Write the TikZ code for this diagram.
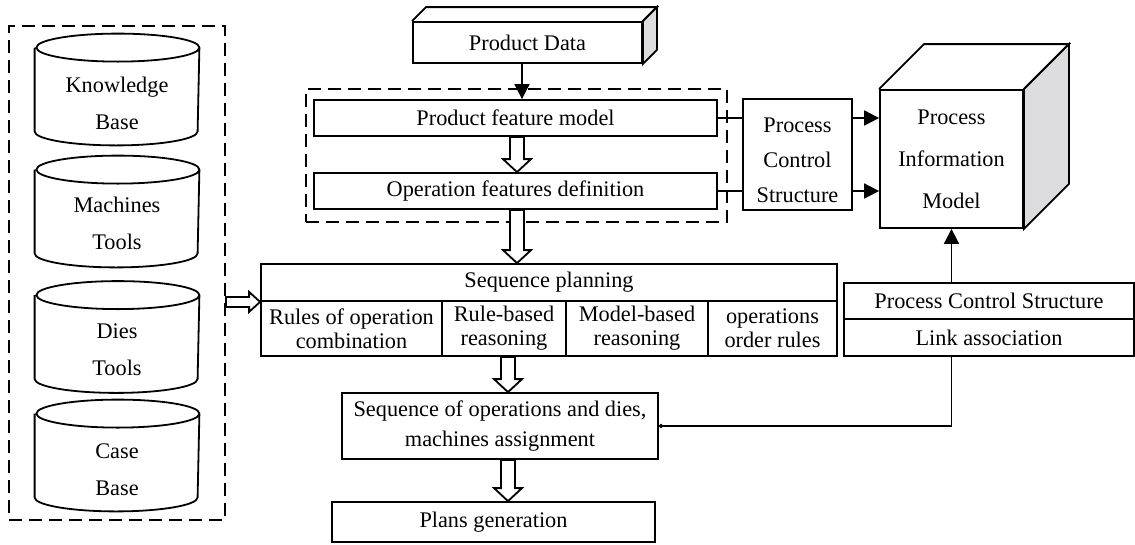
\documentclass[tikz,border=0pt]{standalone}
\usepackage{fontspec}
\setmainfont{Liberation Serif}
\usetikzlibrary{arrows.meta,calc}
\definecolor{sidegray}{RGB}{220,220,222}

\begin{document}
\begin{tikzpicture}[x=1pt, y=-1pt, line width=1.8pt,
  font=\fontsize{22.3}{27}\selectfont,
  box/.style={draw, rectangle, fill=white, inner sep=0pt, align=center},
  dashbox/.style={draw, rectangle, dash pattern=on 13pt off 7pt, line width=2pt, inner sep=0pt},
  dbcyl/.style={rectangle, minimum width=163, minimum height=110, inner sep=0pt},
  dbtext/.style={align=center, font=\fontsize{22.3}{37}\selectfont},
  solidarrow/.style={-{Triangle[length=15pt,width=15pt]}},
  vopen/.style={fill=white, to path={let \p1=(\tikztostart), \p2=(\tikztotarget) in
    (\x1-7pt,\y1) -- (\x1-7pt,\y2+13pt) -- (\x1-14pt,\y2+13pt) -- (\x1,\y2) -- (\x1+14pt,\y2+13pt) -- (\x1+7pt,\y2+13pt) -- (\x1+7pt,\y1) -- cycle}},
  hopen/.style={fill=white, to path={let \p1=(\tikztostart), \p2=(\tikztotarget) in
    (\x1,\y1+5pt) -- (\x2-11pt,\y1+5pt) -- (\x2-11pt,\y1+10pt) -- (\x2,\y1) -- (\x2-11pt,\y1-10pt) -- (\x2-11pt,\y1-5pt) -- (\x1,\y1-5pt) -- cycle}}
]
\useasboundingbox (0,0) rectangle (1135,544);

\node[dashbox, minimum width=216, minimum height=494] (bases) at (117,273) {};
\node[dbcyl] (kbcyl) at (117,89.5) {};
\node[dbtext] (kb) at ([yshift=-14pt]kbcyl.center) {Knowledge\\Base};
\node[dbcyl] (mtcyl) at (117,211.5) {};
\node[dbtext] (mt) at ([yshift=-12pt]mtcyl.center) {Machines\\Tools};
\node[dbcyl] (dtcyl) at (117,337) {};
\node[dbtext] (dt) at ([yshift=-13pt]dtcyl.center) {Dies\\Tools};
\node[dbcyl] (cbcyl) at (117,455.5) {};
\node[dbtext] (cb) at ([yshift=-14pt]cbcyl.center) {Case\\Base};
\foreach \c in {kbcyl,mtcyl,dtcyl,cbcyl}
  \draw ([yshift=-14pt]\c.north west) -- ([yshift=14pt]\c.south west)
    arc[start angle=180, end angle=360, x radius=81.5pt, y radius=14pt]
    -- ([yshift=-14pt]\c.north east)
    arc[start angle=0, end angle=360, x radius=81.5pt, y radius=14pt];

\node[box, minimum width=229, minimum height=41] (pd) at (527.5,42.5) {Product Data};
\draw (pd.north west) -- ([shift={(14,-14)}]pd.north west) -- ([shift={(14,-14)}]pd.north east) -- (pd.north east);
\draw[fill=sidegray] (pd.north east) -- ([shift={(14,-14)}]pd.north east) -- ([shift={(14,-14)}]pd.south east) -- (pd.south east) -- cycle;

\node[dashbox, minimum width=421, minimum height=133] (grp) at (516.5,155.5) {};
\node[box, minimum width=403, minimum height=36] (pfm) at (515.5,118) {Product feature model};
\node[box, minimum width=403, minimum height=36] (ofd) at (515.5,191) {Operation features definition};

\node[box, minimum width=109, minimum height=111, font=\fontsize{22.3}{35}\selectfont] (pcs) at (797.5,154.5) {\rule{0pt}{26pt}Process\\Control\\Structure};
\node[box, minimum width=143, minimum height=138, font=\fontsize{22.3}{42}\selectfont] (pim) at (951.5,159) {Process\\Information\\Model};
\draw (pim.north west) -- ([shift={(45,-45)}]pim.north west) -- ([shift={(45,-45)}]pim.north east) -- (pim.north east);
\draw[fill=sidegray] (pim.north east) -- ([shift={(45,-45)}]pim.north east) -- ([shift={(45,-45)}]pim.south east) -- (pim.south east) -- cycle;

\node[box, minimum width=576, minimum height=37] (seqhead) at (549,282.5) {Sequence planning};
\node[box, minimum width=181, minimum height=55, font=\fontsize{22.3}{24}\selectfont] (rules) at (351.5,328.5) {Rules of operation\\combination};
\node[box, minimum width=124, minimum height=55, font=\fontsize{22.3}{24}\selectfont] (rbr) at (504,328.5) {Rule-based\\reasoning};
\node[box, minimum width=142, minimum height=55, font=\fontsize{22.3}{24}\selectfont] (mbr) at (637,328.5) {Model-based\\reasoning};
\node[box, minimum width=129, minimum height=55, font=\fontsize{22.3}{24}\selectfont] (orules) at (772.5,328.5) {operations\\order rules};

\node[box, minimum width=316, minimum height=66, font=\fontsize{22.3}{30}\selectfont] (seqops) at (500,426) {Sequence of operations and dies,\\machines assignment};
\node[box, minimum width=323, minimum height=40] (plans) at (493.5,522) {Plans generation};

\node[box, minimum width=290, minimum height=36] (pcsl) at (989,301) {Process Control Structure};
\node[box, minimum width=290, minimum height=37] (link) at (989,337.5) {Link association};

\draw[solidarrow] ([xshift=-5.5pt]pd.south) -- ([xshift=-5.5pt]pd.south |- pfm.north);
\draw[vopen] ([xshift=1.5pt]pfm.south) to ([xshift=1.5pt]pfm.south |- ofd.north);
\draw[vopen] ([xshift=1.5pt]ofd.south) to ([xshift=1.5pt]ofd.south |- seqhead.north);
\draw[vopen] ([xshift=8pt]seqops.north |- rbr.south) to ([xshift=8pt]seqops.north);
\draw[vopen] ([xshift=8pt]seqops.south) to ([xshift=8pt]seqops.south |- plans.north);
\draw[hopen] (bases.east |- seqhead.south) to (seqhead.south west);

\draw (pfm.east) -- (pcs.west |- pfm.east);
\draw (ofd.east) -- (pcs.west |- ofd.east);
\draw[solidarrow] (pcs.east |- pfm.east) -- (pim.west |- pfm.east);
\draw[solidarrow] (pcs.east |- ofd.east) -- (pim.west |- ofd.east);
\draw[solidarrow] (pim.south |- pcsl.north) -- (pim.south);
\draw[{Circle[length=4pt]}-] (seqops.east) -| (pim.south |- link.south);
\end{tikzpicture}
\end{document}
